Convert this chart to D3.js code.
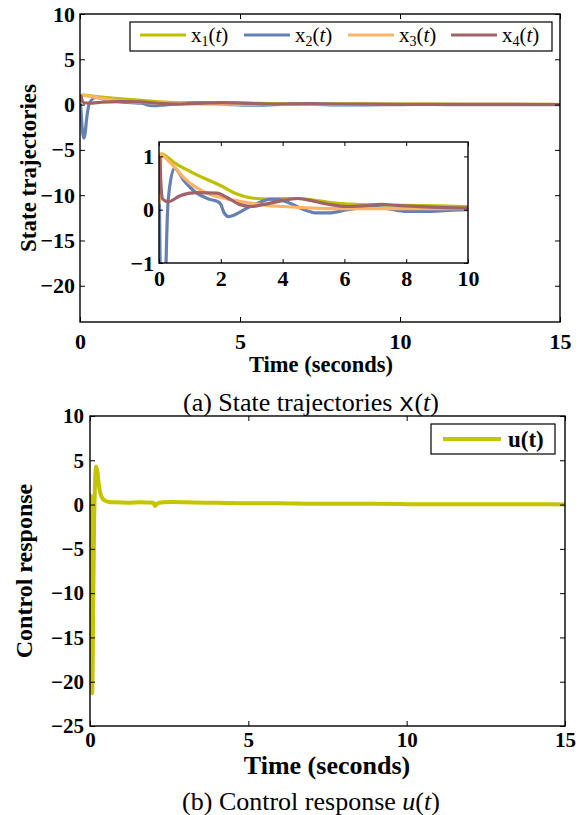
<!DOCTYPE html>
<html>
<head>
<meta charset="utf-8">
<script src="https://cdn.jsdelivr.net/npm/d3@7"></script>
<style>
body { margin: 0; background: #fff; }
svg text { font-family: "Liberation Serif", "Times New Roman", serif; }
</style>
</head>
<body>
<svg id="fig" width="587" height="815"></svg>
<script>
// state trajectories (time in seconds)
const x1T = [0, 0.08, 0.5, 1, 1.5, 2, 2.5, 3, 3.5, 4, 4.5, 5, 5.5, 6, 7, 8, 9, 10, 12, 15];
const x1V = [0.95, 1.05, 0.88, 0.72, 0.58, 0.45, 0.3, 0.22, 0.2, 0.21, 0.21, 0.18, 0.14, 0.11, 0.09, 0.08, 0.07, 0.06, 0.04, 0.02];

const x2T = [0, 0.04, 0.08, 0.12, 0.16, 0.2, 0.3, 0.5, 0.8, 1.2, 1.6, 1.9, 2.0, 2.1, 2.25, 2.4, 2.6, 2.95, 3.3, 3.6, 3.9, 4.2, 4.7, 5.1, 5.5, 6.1, 6.8, 7.4, 8, 8.8, 9.5, 10, 11, 12, 13, 14, 15];
const x2V = [0.9, -1.2, -3.0, -3.7, -3.2, -1.8, 0.2, 0.78, 0.55, 0.32, 0.2, 0.15, 0.1, -0.05, -0.13, -0.11, -0.05, 0.06, 0.15, 0.2, 0.19, 0.13, 0, -0.06, -0.06, 0, 0.05, 0.02, -0.03, -0.03, -0.01, 0, 0.01, 0, -0.01, 0, 0];

const x3T = [0, 0.03, 0.08, 0.2, 0.5, 0.8, 1.2, 1.6, 2, 2.5, 3, 3.5, 4, 5, 6, 8, 10, 15];
const x3V = [0.1, 0.6, 1.05, 0.98, 0.8, 0.6, 0.42, 0.3, 0.23, 0.17, 0.12, 0.08, 0.06, 0.03, 0.02, 0.02, 0.02, 0.01];

const x4T = [0, 0.03, 0.06, 0.12, 0.3, 0.68, 1.2, 1.87, 2.2, 2.6, 3, 3.4, 3.9, 4.5, 5, 5.5, 6.1, 6.6, 7.2, 7.7, 8.8, 10, 12, 15];
const x4V = [0.3, 0.97, 0.5, 0.2, 0.15, 0.26, 0.32, 0.31, 0.23, 0.1, 0.06, 0.1, 0.16, 0.21, 0.16, 0.1, 0.06, 0.07, 0.1, 0.08, 0.05, 0.03, 0.02, 0.01];

// control signal
const uT = [0, 0.02, 0.04, 0.07, 0.1, 0.13, 0.16, 0.19, 0.23, 0.28, 0.35, 0.45, 0.6, 0.8, 1.2, 1.6, 2.0, 2.05, 2.12, 2.3, 2.6, 3, 4, 5, 6, 7, 8, 9, 10, 11, 12, 13, 14, 15];
const uV = [0, 1, -8, -21.3, -12, -2, 2.5, 4.3, 3.8, 2.2, 1.0, 0.5, 0.3, 0.25, 0.2, 0.25, 0.2, -0.15, 0.1, 0.25, 0.3, 0.25, 0.2, 0.15, 0.15, 0.1, 0.1, 0.08, 0.05, 0.05, 0.04, 0.03, 0.03, 0.02];

const stateNames = ["1", "2", "3", "4"];
const stateColors = ["#bfbf00", "#6680b3", "#ffb366", "#a06468"];
const uColor = "#c4c400";

const xTicksMain = [0, 5, 10, 15];
const yTicksA = [10, 5, 0, -5, -10, -15, -20];
const yTicksB = [10, 5, 0, -5, -10, -15, -20, -25];
const xTicksInset = [0, 2, 4, 6, 8, 10];
const yTicksInset = [-1, 0, 1];

const states = [x1T, x2T, x3T, x4T].map((t, i) => ({
    name: stateNames[i],
    color: stateColors[i],
    pts: t.map((tt, j) => [tt, [x1V, x2V, x3V, x4V][i][j]])
}));
const uPts = uT.map((t, j) => [t, uV[j]]);

const svg = d3.select("#fig");
const serif = '"Liberation Serif", "Times New Roman", serif';

// draws a boxed matlab-style axes with inward ticks on all four sides
function drawBox(g, x, y, xt, yt, opt) {
    const [x0, x1] = x.range();
    const [y0, y1] = y.range();
    const tl = opt.tick || 5;

    const styleTicks = sel => {
        sel.select(".domain").remove();
        sel.selectAll("line").attr("stroke", "#000").attr("stroke-width", 1);
        sel.selectAll("text")
            .style("font-family", serif)
            .style("font-weight", "bold")
            .style("font-size", opt.fs + "px")
            .attr("fill", "#000");
    };

    g.append("g").attr("transform", `translate(0,${y0})`)
        .call(d3.axisBottom(x).tickValues(xt).tickSize(-tl).tickPadding(opt.xPad).tickFormat(d3.format("d")))
        .call(styleTicks);
    g.append("g").attr("transform", `translate(0,${y1})`)
        .call(d3.axisTop(x).tickValues(xt).tickSize(-tl).tickFormat(""))
        .call(styleTicks);
    g.append("g").attr("transform", `translate(${x0},0)`)
        .call(d3.axisLeft(y).tickValues(yt).tickSize(-tl).tickPadding(opt.yPad).tickFormat(d3.format("d")))
        .call(styleTicks);
    g.append("g").attr("transform", `translate(${x1},0)`)
        .call(d3.axisRight(y).tickValues(yt).tickSize(-tl).tickFormat(""))
        .call(styleTicks);

    g.append("rect")
        .attr("x", x0).attr("y", y1)
        .attr("width", x1 - x0).attr("height", y0 - y1)
        .attr("fill", "none").attr("stroke", "#000").attr("stroke-width", 1.4);
}

function clipFor(id, x, y) {
    const [x0, x1] = x.range();
    const [y0, y1] = y.range();
    svg.append("clipPath").attr("id", id)
        .append("rect").attr("x", x0).attr("y", y1).attr("width", x1 - x0).attr("height", y0 - y1);
}

function boldText(g, txt, size) {
    return g.append("text")
        .attr("text-anchor", "middle")
        .style("font-weight", "bold")
        .style("font-size", size + "px")
        .text(txt);
}

// ---------- (a) state trajectories ----------
const xA = d3.scaleLinear().domain([0, 15]).range([80, 560]);
const yA = d3.scaleLinear().domain([-24, 10]).range([322, 14]);
clipFor("clipA", xA, yA);

const gA = svg.append("g");
const lineA = d3.line().x(d => xA(d[0])).y(d => yA(d[1])).curve(d3.curveMonotoneX);

gA.append("g").attr("clip-path", "url(#clipA)")
    .selectAll("path")
    .data(states)
    .join("path")
    .attr("d", d => lineA(d.pts))
    .attr("fill", "none")
    .attr("stroke", d => d.color)
    .attr("stroke-width", 3.2)
    .attr("stroke-linejoin", "round");

drawBox(gA, xA, yA, xTicksMain, yTicksA, {fs: 22, xPad: 11, yPad: 5});

// legend
const legA = gA.append("g");
legA.append("rect").attr("x", 130).attr("y", 22).attr("width", 422).attr("height", 29)
    .attr("fill", "#fff").attr("stroke", "#000").attr("stroke-width", 1.2);
const legX = [140, 244, 348, 451];
states.forEach((s, i) => {
    legA.append("line")
        .attr("x1", legX[i]).attr("x2", legX[i] + 46)
        .attr("y1", 35).attr("y2", 35)
        .attr("stroke", s.color).attr("stroke-width", 3.2);
    const t = legA.append("text").attr("x", legX[i] + 51).attr("y", 42).style("font-size", "21px");
    t.append("tspan").text("x");
    t.append("tspan").style("font-size", "14px").attr("dy", 4).text(s.name);
    t.append("tspan").attr("dy", -4).text("(");
    t.append("tspan").style("font-style", "italic").text("t");
    t.append("tspan").text(")");
});

// inset zoom on the first 10 seconds
const xI = d3.scaleLinear().domain([0, 10]).range([159, 468]);
const yI = d3.scaleLinear().domain([-1, 1.27]).range([263, 142]);
clipFor("clipI", xI, yI);
const gI = svg.append("g");
gI.append("rect").attr("x", 159).attr("y", 142).attr("width", 309).attr("height", 121).attr("fill", "#fff");
const lineI = d3.line().x(d => xI(d[0])).y(d => yI(d[1])).curve(d3.curveMonotoneX);
gI.append("g").attr("clip-path", "url(#clipI)")
    .selectAll("path")
    .data(states)
    .join("path")
    .attr("d", d => lineI(d.pts.filter(p => p[0] <= 10.5)))
    .attr("fill", "none")
    .attr("stroke", d => d.color)
    .attr("stroke-width", 3.2)
    .attr("stroke-linejoin", "round");
drawBox(gI, xI, yI, xTicksInset, yTicksInset, {fs: 22, xPad: 7, yPad: 5, tick: 4});

boldText(gA, "State trajectories", 23).attr("transform", "translate(36,168) rotate(-90)");
boldText(gA, "Time (seconds)", 22.5).attr("x", 321).attr("y", 372);

const capA = svg.append("text").attr("x", 311).attr("y", 411)
    .attr("text-anchor", "middle").style("font-size", "26px");
capA.append("tspan").text("(a) State trajectories ");
capA.append("tspan").style("font-family", '"Liberation Mono", monospace').text("x");
capA.append("tspan").text("(");
capA.append("tspan").style("font-style", "italic").text("t");
capA.append("tspan").text(")");

// ---------- (b) control response ----------
const xB = d3.scaleLinear().domain([0, 15]).range([90, 565]);
const yB = d3.scaleLinear().domain([-25, 10]).range([726, 416]);
clipFor("clipB", xB, yB);
const gB = svg.append("g");
const lineB = d3.line().x(d => xB(d[0])).y(d => yB(d[1])).curve(d3.curveMonotoneX);
gB.append("path")
    .attr("clip-path", "url(#clipB)")
    .attr("d", lineB(uPts))
    .attr("fill", "none")
    .attr("stroke", uColor)
    .attr("stroke-width", 4)
    .attr("stroke-linejoin", "round");

drawBox(gB, xB, yB, xTicksMain, yTicksB, {fs: 21, xPad: 6, yPad: 6});

gB.append("rect").attr("x", 431).attr("y", 424).attr("width", 124).attr("height", 30)
    .attr("fill", "#fff").attr("stroke", "#000").attr("stroke-width", 1.2);
gB.append("line").attr("x1", 443).attr("x2", 501).attr("y1", 439).attr("y2", 439)
    .attr("stroke", uColor).attr("stroke-width", 4);
gB.append("text").attr("x", 508).attr("y", 447)
    .style("font-weight", "bold").style("font-size", "23px").text("u(t)");

boldText(gB, "Control response", 24).attr("transform", "translate(32,571) rotate(-90)");
boldText(gB, "Time (seconds)", 26).attr("x", 327).attr("y", 774);

const capB = svg.append("text").attr("x", 311).attr("y", 810)
    .attr("text-anchor", "middle").style("font-size", "26px");
capB.append("tspan").text("(b) Control response ");
capB.append("tspan").style("font-style", "italic").text("u");
capB.append("tspan").text("(");
capB.append("tspan").style("font-style", "italic").text("t");
capB.append("tspan").text(")");
</script>
</body>
</html>
